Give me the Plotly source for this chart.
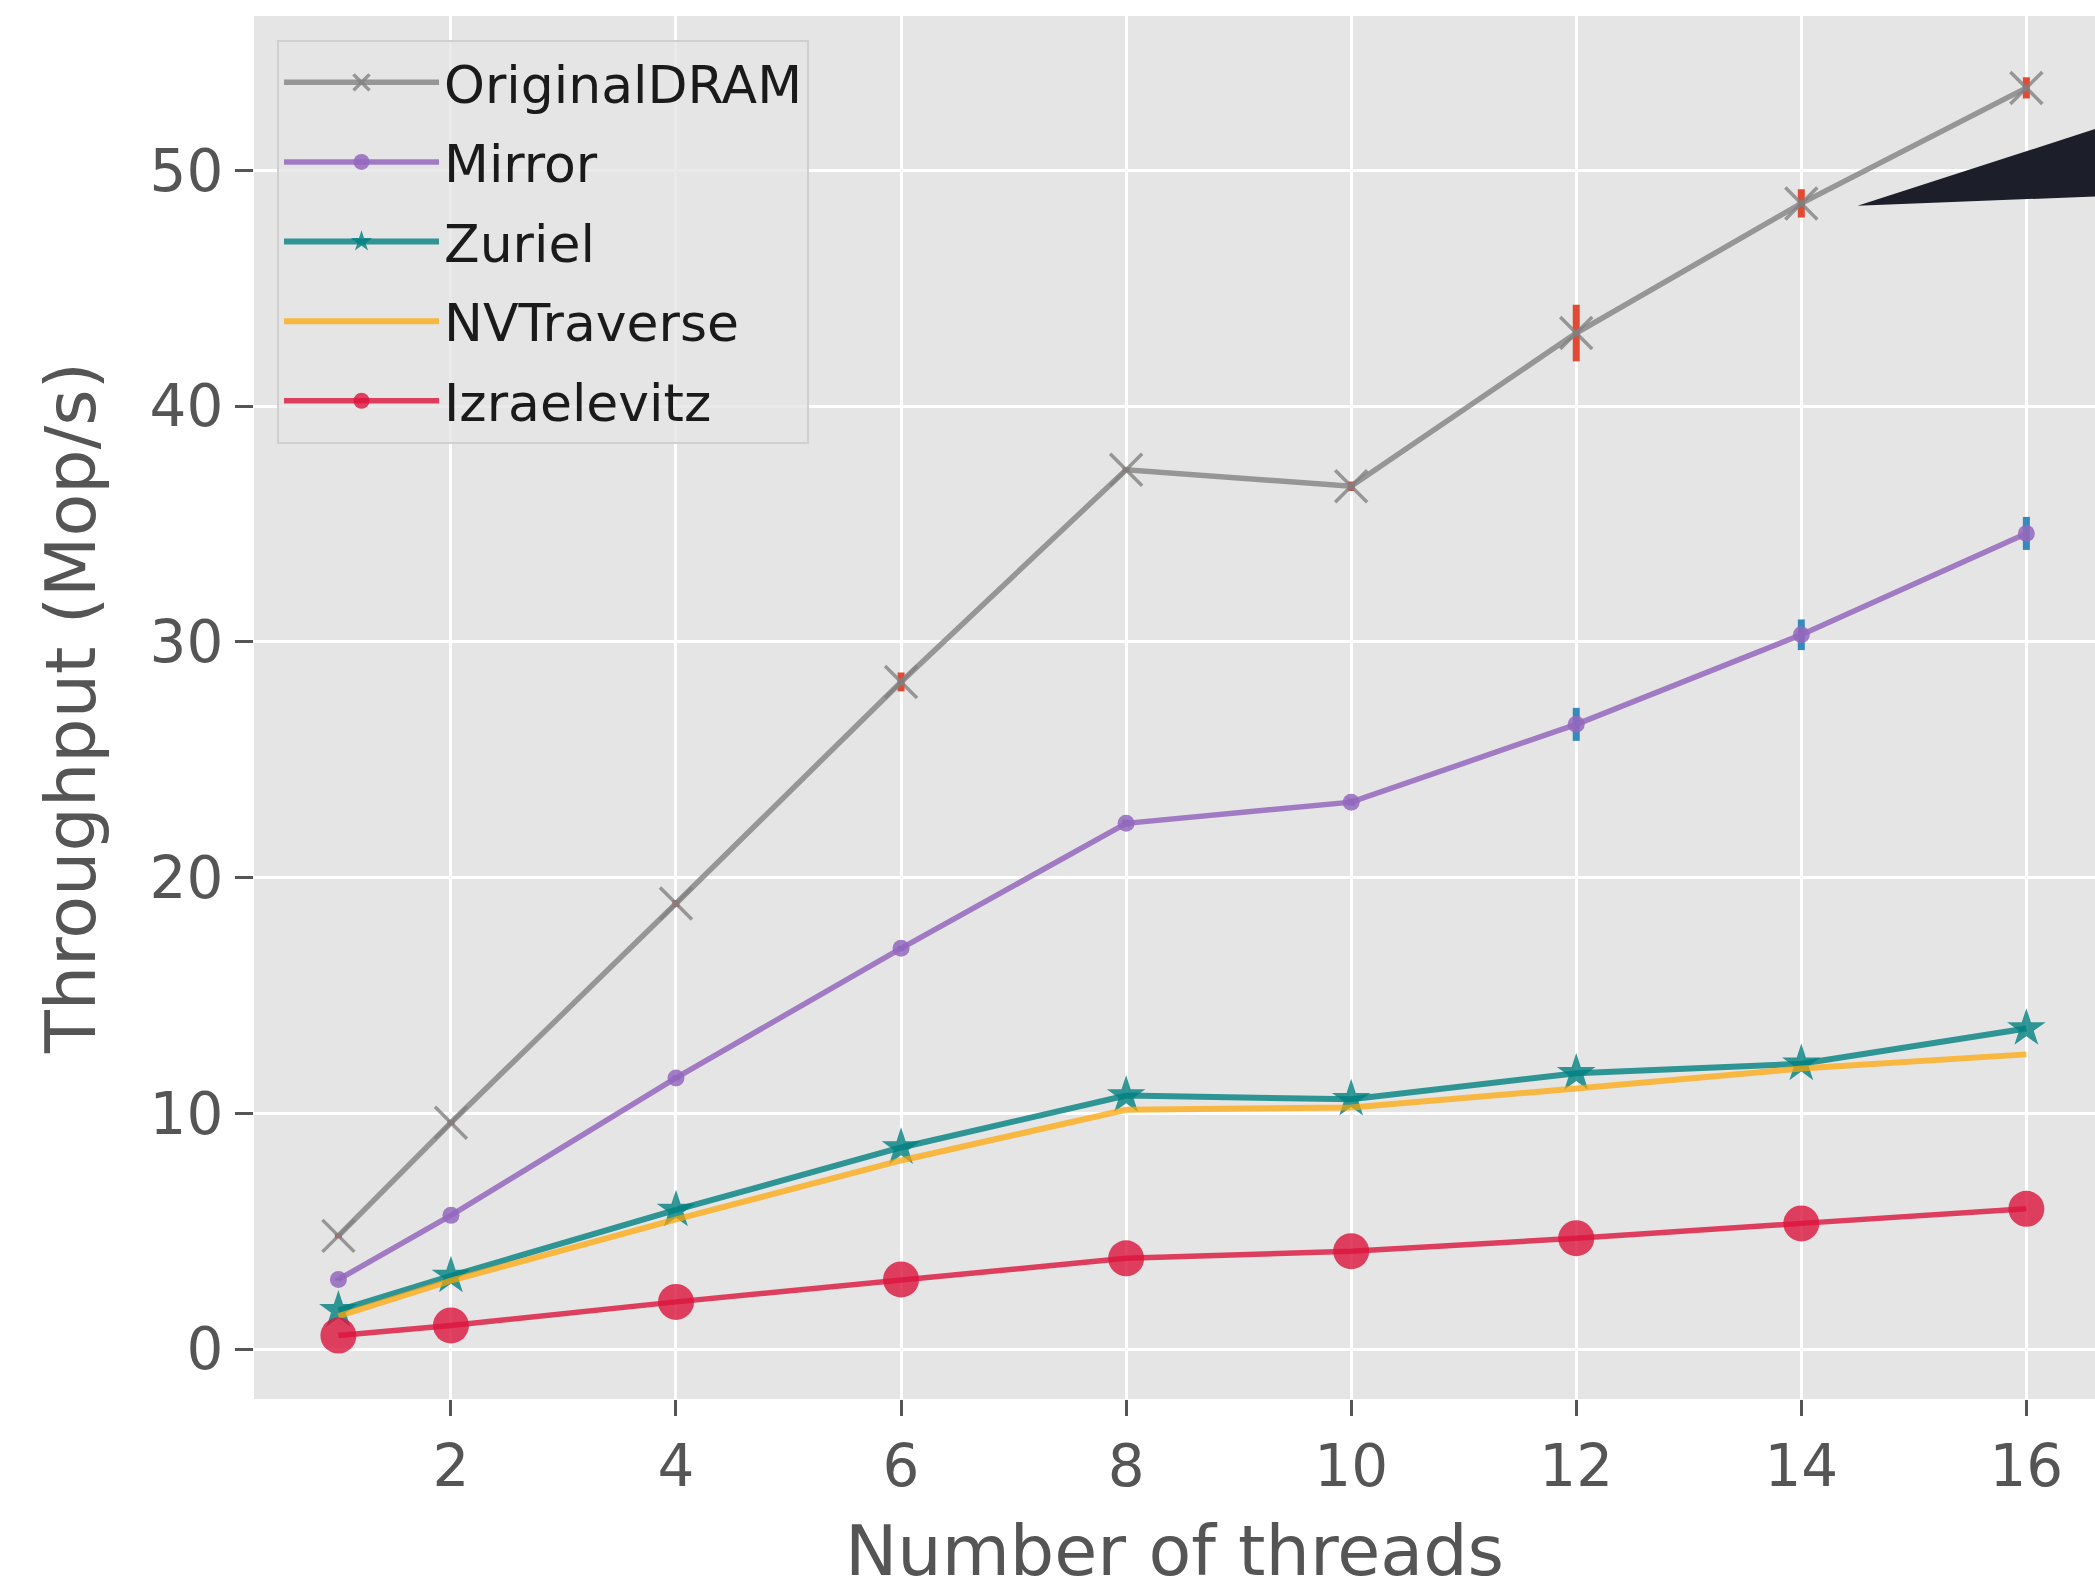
import plotly.graph_objects as go

threads = [1, 2, 4, 6, 8, 10, 12, 14, 16]

original_dram = [4.8, 9.6, 18.9, 28.3, 37.3, 36.6, 43.1, 48.6, 53.5]
original_dram_err = [0.1, 0.1, 0.15, 0.4, 0.1, 0.2, 1.2, 0.6, 0.45]
mirror = [2.95, 5.67, 11.5, 17.0, 22.3, 23.2, 26.5, 30.3, 34.6]
mirror_err = [0.05, 0.05, 0.1, 0.1, 0.15, 0.15, 0.7, 0.65, 0.7]
zuriel = [1.64, 3.1, 5.9, 8.55, 10.75, 10.6, 11.7, 12.1, 13.6]
nvtraverse = [1.4, 2.9, 5.5, 8.0, 10.15, 10.25, 11.05, 11.9, 12.5]
izraelevitz = [0.57, 1.0, 2.0, 2.95, 3.85, 4.15, 4.7, 5.33, 5.95]

x_ticks = [2, 4, 6, 8, 10, 12, 14, 16]
y_ticks = [0, 10, 20, 30, 40, 50]

series_names = ["OriginalDRAM", "Mirror", "Zuriel", "NVTraverse", "Izraelevitz"]

FONT = "DejaVu Sans"
fig = go.Figure()

fig.add_trace(go.Scatter(
    x=threads, y=original_dram, name=series_names[0], legendgroup="g0",
    mode="lines+markers",
    line=dict(color="rgba(128,128,128,0.78)", width=5.5),
    marker=dict(symbol="x-thin", size=32, line=dict(width=3.5, color="rgba(128,128,128,0.78)")),
    error_y=dict(type="data", array=original_dram_err, color="#E24A33", thickness=7, width=0),
))
fig.add_trace(go.Scatter(
    x=threads, y=mirror, name=series_names[1], legendgroup="g1",
    mode="lines+markers",
    line=dict(color="rgba(148,103,189,0.85)", width=5.5),
    marker=dict(symbol="circle", size=17, color="rgba(148,103,189,0.85)"),
    error_y=dict(type="data", array=mirror_err, color="#348ABD", thickness=7, width=0),
))
fig.add_trace(go.Scatter(
    x=threads, y=zuriel, name=series_names[2], legendgroup="g2",
    mode="lines+markers",
    line=dict(color="rgba(0,128,128,0.8)", width=6),
    marker=dict(symbol="star", size=29, color="rgba(0,128,128,0.8)"),
))
fig.add_trace(go.Scatter(
    x=threads, y=nvtraverse, name=series_names[3], legendgroup="g3",
    mode="lines",
    line=dict(color="rgba(255,165,0,0.72)", width=6),
))
fig.add_trace(go.Scatter(
    x=threads, y=izraelevitz, name=series_names[4], legendgroup="g4",
    mode="lines+markers",
    line=dict(color="rgba(220,20,60,0.8)", width=5.5),
    marker=dict(symbol="circle", size=36, color="rgba(220,20,60,0.8)"),
))

# dark wedge annotation pointing at the OriginalDRAM curve
fig.add_shape(type="path", xref="x", yref="y",
              path="M 14.5,48.5 L 16.9,52.2 L 16.9,48.95 Z",
              fillcolor="#1C1E2A", line=dict(width=0), layer="above")

fig.update_layout(
    width=2095, height=1592,
    margin=dict(l=254, r=0, t=16, b=193),
    paper_bgcolor="white",
    plot_bgcolor="#E5E5E5",
    font=dict(family=FONT, color="#555555"),
    showlegend=True,
    legend=dict(
        x=0.0125, y=0.9826, xanchor="left", yanchor="top",
        bgcolor="rgba(229,229,229,0.8)",
        bordercolor="#CFCFCF", borderwidth=2,
        font=dict(family=FONT, size=52, color="#1A1A1A"),
        traceorder="grouped", tracegroupgap=9,
        itemwidth=155,
    ),
    xaxis=dict(
        range=[0.25, 16.61],
        automargin=False,
        tickvals=x_ticks,
        ticktext=[str(v) for v in x_ticks],
        showgrid=True, gridcolor="white", gridwidth=3,
        zeroline=False, showline=False,
        ticks="outside", ticklen=16, tickwidth=3, tickcolor="#555555",
        tickfont=dict(family=FONT, size=58, color="#555555"),
        title=dict(text="Number of threads", font=dict(family=FONT, size=70, color="#555555"), standoff=42),
    ),
    yaxis=dict(
        range=[-2.12, 56.55],
        automargin=False,
        tickvals=y_ticks,
        ticktext=[str(v) for v in y_ticks],
        showgrid=True, gridcolor="white", gridwidth=3,
        zeroline=False, showline=False,
        ticks="outside", ticklen=18, tickwidth=3, tickcolor="#555555",
        tickfont=dict(family=FONT, size=58, color="#555555"),
        title=dict(text="Throughput (Mop/s)", font=dict(family=FONT, size=70, color="#555555"), standoff=31),
    ),
)

# remove the page's default body margin so the figure fills the window exactly
fig.write_html("out.html", config={"displayModeBar": False},
               post_script="document.body.style.margin='0px';")
